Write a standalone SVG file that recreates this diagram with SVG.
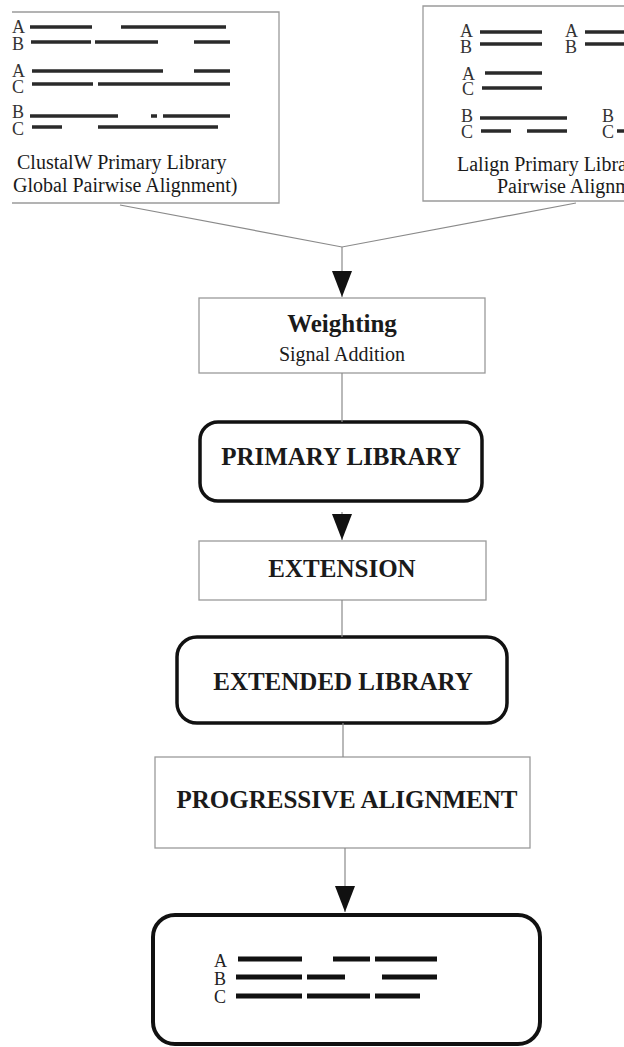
<svg xmlns="http://www.w3.org/2000/svg" width="624" height="1047" viewBox="0 0 624 1047">
<style>
text{font-family:"Liberation Serif","Times New Roman",serif;fill:#1a1a1a}
.lab{font-size:20px}
.big{font-size:25px;font-weight:bold;text-anchor:middle}
.sub{font-size:20px;text-anchor:middle}
.ltr{font-size:18px;fill:#333}
.thin{fill:none;stroke:#9a9a9a;stroke-width:1.3}
.round{fill:none;stroke:#111;stroke-width:3.5}
.bar{stroke:#2a2a2a;stroke-width:3.5;stroke-linecap:butt}
.fbar{stroke:#111;stroke-width:5;stroke-linecap:butt}
.conn{fill:none;stroke:#8a8a8a;stroke-width:1.2}
</style>
<defs>
<marker id="arr" markerUnits="userSpaceOnUse" markerWidth="28" markerHeight="22" viewBox="0 -11 28 22" refX="26" refY="0" orient="auto">
<path d="M0,-10 L26,0 L0,10 z" fill="#111"/>
</marker>
</defs>

<g id="clustalw">
<path class="thin" d="M12,12 H279 V203 H12"/>
<text class="ltr" x="12" y="33">A</text><text class="ltr" x="12" y="50">B</text>
<text class="ltr" x="12" y="77">A</text><text class="ltr" x="12" y="93">C</text>
<text class="ltr" x="12" y="118">B</text><text class="ltr" x="12" y="135">C</text>
<g class="bar">
<line x1="30" y1="27" x2="92" y2="27"/><line x1="121" y1="27" x2="226" y2="27"/>
<line x1="31" y1="42" x2="91" y2="42"/><line x1="95" y1="42" x2="158" y2="42"/><line x1="194" y1="42" x2="230" y2="42"/>
<line x1="32" y1="71" x2="163" y2="71"/><line x1="194" y1="71" x2="230" y2="71"/>
<line x1="32" y1="84" x2="93" y2="84"/><line x1="98" y1="84" x2="230" y2="84"/>
<line x1="30" y1="116" x2="118" y2="116"/><line x1="151" y1="116" x2="157" y2="116"/><line x1="163" y1="116" x2="230" y2="116"/>
<line x1="32" y1="127" x2="62" y2="127"/><line x1="98" y1="127" x2="218" y2="127"/>
</g>
<text class="lab" x="17" y="169">ClustalW Primary Library</text>
<text class="lab" x="13" y="192">Global Pairwise Alignment)</text>
</g>

<g id="lalign">
<path class="thin" d="M630,6 H423 V201 H630"/>
<text class="ltr" x="460" y="37">A</text><text class="ltr" x="460" y="53">B</text>
<text class="ltr" x="565" y="37">A</text><text class="ltr" x="565" y="53">B</text>
<text class="ltr" x="462" y="80">A</text><text class="ltr" x="462" y="95">C</text>
<text class="ltr" x="461" y="122">B</text><text class="ltr" x="461" y="138">C</text>
<text class="ltr" x="602" y="122">B</text><text class="ltr" x="602" y="138">C</text>
<g class="bar">
<line x1="480" y1="32" x2="542" y2="32"/><line x1="585" y1="32" x2="630" y2="32"/>
<line x1="480" y1="44" x2="542" y2="44"/><line x1="585" y1="44" x2="630" y2="44"/>
<line x1="485" y1="73" x2="542" y2="73"/>
<line x1="482" y1="88" x2="542" y2="88"/>
<line x1="480" y1="118" x2="567" y2="118"/>
<line x1="481" y1="131" x2="511" y2="131"/><line x1="527" y1="131" x2="567" y2="131"/>
<line x1="617" y1="131" x2="630" y2="131"/>
</g>
<text class="lab" x="457" y="171">Lalign Primary Libra</text>
<text class="lab" x="497" y="193">Pairwise Alignm</text>
</g>

<g id="weighting">
<rect class="thin" x="199" y="298" width="286" height="75"/>
<text class="big" x="342" y="332">Weighting</text>
<text class="sub" x="342" y="361">Signal Addition</text>
</g>

<g id="primary">
<rect class="round" x="200" y="422" width="282" height="79" rx="18"/>
<text class="big" x="341" y="465">PRIMARY LIBRARY</text>
</g>

<g id="extension">
<rect class="thin" x="199" y="541" width="287" height="59"/>
<text class="big" x="342" y="577">EXTENSION</text>
</g>

<g id="extended">
<rect class="round" x="177" y="637" width="330" height="86" rx="20"/>
<text class="big" x="343" y="690">EXTENDED LIBRARY</text>
</g>

<g id="progressive">
<rect class="thin" x="155" y="757" width="375" height="91"/>
<text class="big" x="347" y="808">PROGRESSIVE ALIGNMENT</text>
</g>

<g id="result">
<rect x="153" y="915" width="387" height="129" rx="22" fill="none" stroke="#111" stroke-width="4"/>
<text class="ltr" x="214" y="967" style="fill:#222">A</text>
<text class="ltr" x="214" y="985" style="fill:#222">B</text>
<text class="ltr" x="214" y="1003" style="fill:#222">C</text>
<g class="fbar">
<line x1="238" y1="959" x2="302" y2="959"/><line x1="333" y1="959" x2="370" y2="959"/><line x1="375" y1="959" x2="437" y2="959"/>
<line x1="236" y1="977" x2="302" y2="977"/><line x1="307" y1="977" x2="345" y2="977"/><line x1="382" y1="977" x2="437" y2="977"/>
<line x1="236" y1="996" x2="302" y2="996"/><line x1="307" y1="996" x2="370" y2="996"/><line x1="375" y1="996" x2="420" y2="996"/>
</g>
</g>

<g id="connectors">
<path class="conn" d="M120,205 L342,247 L576,203"/>
<line class="conn" x1="342" y1="247" x2="342" y2="297" marker-end="url(#arr)"/>
<line class="conn" x1="342" y1="373" x2="342" y2="422"/>
<line class="conn" x1="342" y1="512" x2="342" y2="540" marker-end="url(#arr)"/>
<line class="conn" x1="342" y1="600" x2="342" y2="637"/>
<line class="conn" x1="343" y1="723" x2="343" y2="757"/>
<line class="conn" x1="345" y1="848" x2="345" y2="912" marker-end="url(#arr)"/>
</g>
</svg>
